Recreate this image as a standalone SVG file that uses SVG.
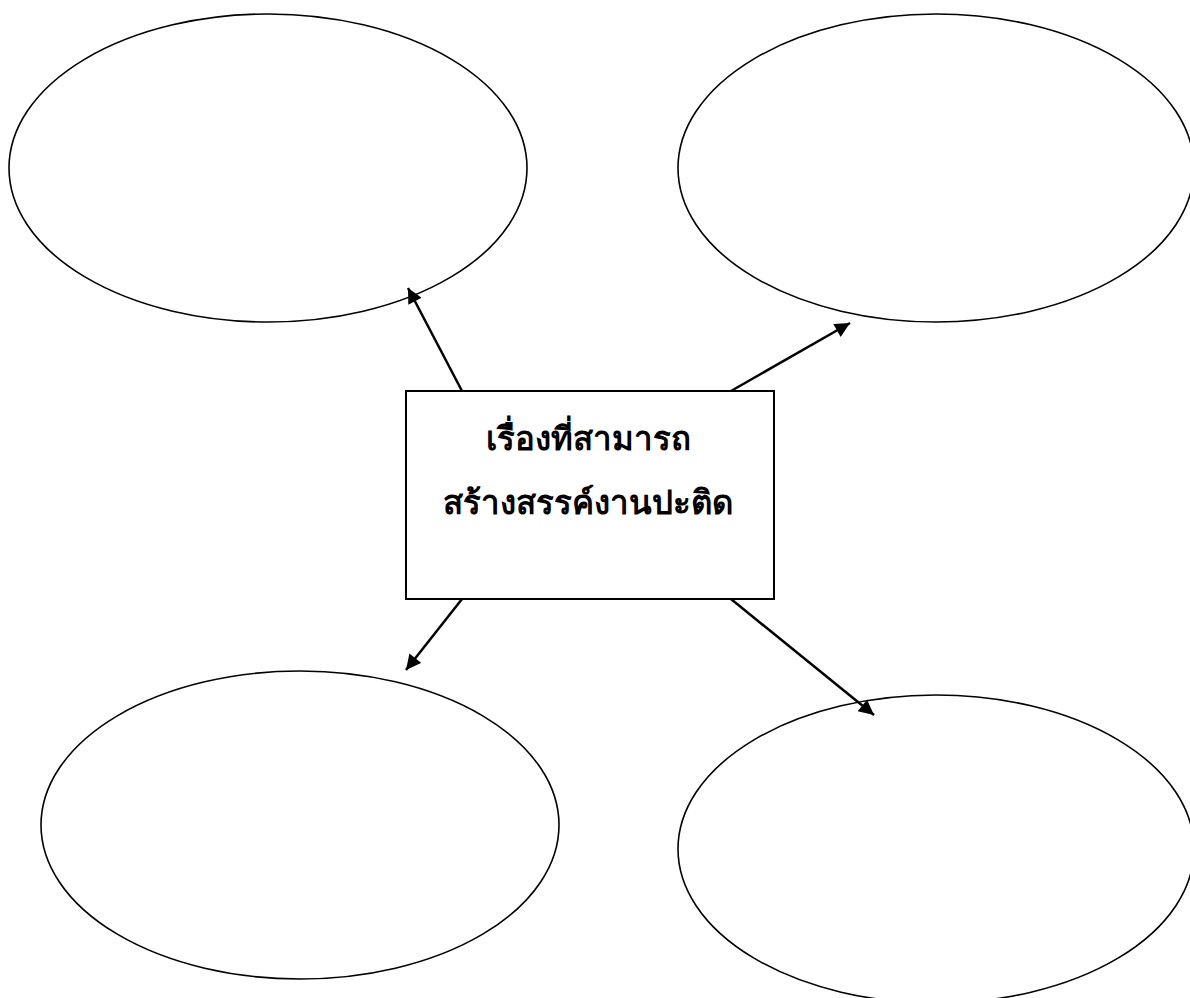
<svg xmlns="http://www.w3.org/2000/svg" width="1190" height="998" viewBox="0 0 1190 998">
<style>
.node{fill:#fff;stroke:#000;stroke-width:1.6}
.box{fill:#fff;stroke:#000;stroke-width:2}
.conn{stroke:#000;stroke-width:2.5;fill:none;marker-end:url(#ah)}
.lbl{font-family:"Noto Sans","Leelawadee UI",Tahoma,sans-serif;font-size:33px;font-weight:bold;fill:#000;text-anchor:middle}
</style>
<defs>
<marker id="ah" viewBox="0 0 10 10" refX="10" refY="5" markerWidth="7" markerHeight="6" markerUnits="strokeWidth" orient="auto">
<path d="M0,0 L10,5 L0,10 z" fill="#000"/>
</marker>
</defs>
<rect width="1190" height="998" fill="#fff"/>
<g id="n1"><ellipse class="node" cx="268" cy="168" rx="259" ry="154"/></g>
<g id="n2"><ellipse class="node" cx="936" cy="168" rx="258" ry="154"/></g>
<g id="n3"><ellipse class="node" cx="300" cy="825" rx="259" ry="154"/></g>
<g id="n4"><ellipse class="node" cx="936" cy="849" rx="258" ry="154"/></g>
<g id="center">
<rect class="box" x="406" y="391" width="368" height="208"/>
<text class="lbl" x="588" y="450">เรื่องที่สามารถ</text>
<text class="lbl" x="588" y="514">สร้างสรรค์งานปะติด</text>
</g>
<g id="connectors">
<line class="conn" x1="462" y1="391" x2="408" y2="288"/>
<line class="conn" x1="731" y1="391" x2="850" y2="323"/>
<line class="conn" x1="462" y1="599" x2="406" y2="670"/>
<line class="conn" x1="731" y1="599" x2="874" y2="715"/>
</g>
</svg>
